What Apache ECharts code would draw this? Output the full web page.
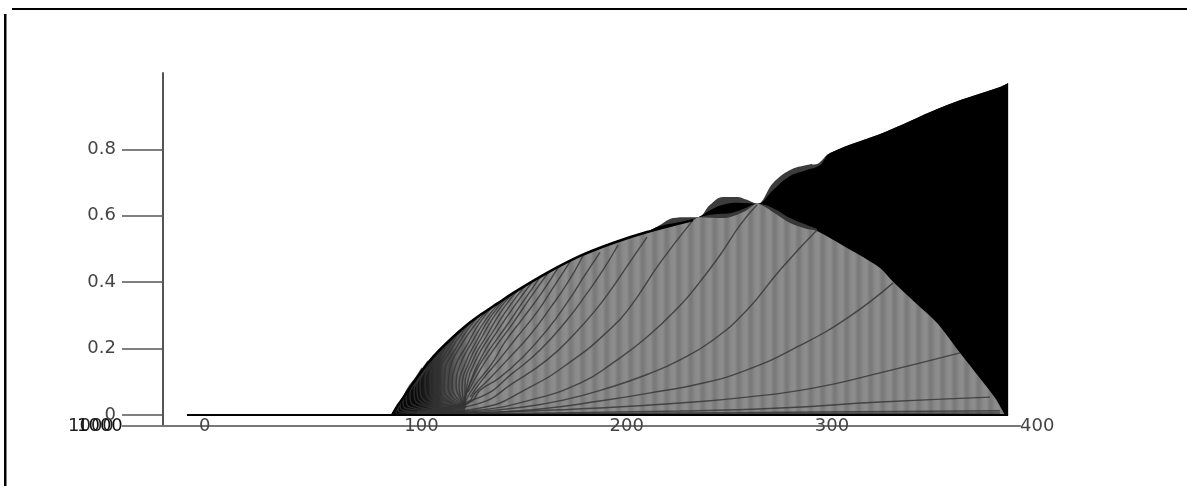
<!DOCTYPE html>
<html><head><meta charset="utf-8">
<style>html,body{margin:0;padding:0;background:#fff}#c{width:1187px;height:486px}</style>
<script src="https://cdn.jsdelivr.net/npm/echarts@6/dist/echarts.min.js"></script>
</head><body><div id="c"></div>
<script>
const xTickValues = [0, 100, 200, 300, 400];
const yTickValues = [-0.0331, 0, 0.2, 0.4, 0.6, 0.8];
const yTickLabels = ['', '0', '0.2', '0.4', '0.6', '0.8'];
const strayLabel = '1000';
const baseline = [[0,0],[99.5,0],[400,0]];
const leftEdge = [[99.9,0],[102.8,.03],[106.2,.06],[112.5,.117],[120.8,.181],[129.1,.232],[136.9,.274],[142.8,.301],[151.5,.337],[158.8,.367],[175.4,.428],[191.5,.479],[207.5,.518],[224.1,.551]];
const wedgeEdge = [[99.9,0],[102.8,.03],[106.2,.06],[112.5,.117],[120.8,.181],[129.1,.232],[136.9,.274],[142.8,.301]];
const greyEdge = [...leftEdge,[246.5,.587],[249,.596],[261.1,.593],[271.9,.614],[277.7,.636],[285.5,.611],[293.8,.578],[302,.56],[306.9,.554],[321.6,.503],[337.6,.443],[344,.401],[357.1,.325],[365.4,.277],[376.6,.187],[386.3,.111],[393.7,.051],[398.5,0]];
const upperEdge = [...leftEdge,[230.4,.572],[236.8,.593],[243.6,.596],[249,.596],[254.8,.633],[261.1,.657],[268,.657],[272.8,.648],[277.7,.636],[285.5,.699],[293.8,.738],[302,.753],[306.9,.756],[308.4,.762],[313.3,.789],[341,.855],[370.3,.934],[396.1,.988],[400,1]];
const coreEdge = [[224.1,.551],[230.4,.569],[240.2,.581],[249,.596],[254.8,.617],[261.1,.633],[268,.639],[277.7,.636],[285.5,.678],[293.8,.72],[302,.738],[308.4,.753],[313.3,.789],[341,.855],[370.3,.934],[396.1,.988],[400,1]];
const lensEdge = [[249,.596],[257.2,.605],[264.5,.608],[271.9,.623],[277.7,.636],[285.5,.623],[293.8,.593],[302,.572],[306.9,.56]];
const envelopeLine = [...leftEdge,[246.5,.587]];
const fanCurves = [
 [[103.8,0],[249.9,.003],[396,.006]],
 [[105,.001],[240.2,.006],[396,.013]],
 [[106,.002],[152,.005],[240.2,.012],[288.9,.021],[337.6,.039],[391.2,.054]],
 [[110,.001],[152,.009],[201,.021],[240.2,.036],[272.8,.054],[305,.081],[337.6,.127],[376.6,.187]],
 [[115,.001],[142.8,.006],[172,.018],[201,.042],[225,.066],[249.9,.094],[272.8,.136],[297.2,.205],[321.6,.292],[344,.398]],
 [[112,.002],[137.9,.009],[160,.021],[183.2,.045],[207.5,.086],[224.1,.122],[240.2,.166],[256.3,.226],[272.8,.316],[288.9,.437],[306.9,.557]],
 [[112,.003],[142.8,.015],[167.1,.045],[191.5,.096],[207.5,.157],[224.1,.235],[240.2,.33],[248.5,.39],[259.7,.482],[269.4,.572],[277.7,.633]],
 [[112,.004],[142.8,.021],[167.1,.084],[188.1,.166],[204.6,.25],[215.8,.325],[230.4,.458],[246.5,.587]],
 [[112,.006],[142.8,.036],[158.8,.096],[175.4,.166],[188.1,.24],[199.8,.322],[207.5,.386],[215.8,.461],[224.1,.536]],
 [[112,.008],[142.8,.054],[158.8,.127],[172,.196],[185.1,.286],[194.9,.367],[202.7,.437],[210,.512]],
 [[112,.009],[137.9,.039],[142.8,.075],[152,.111],[163.2,.172],[175.4,.256],[186,.346],[193.9,.422],[201.2,.49]],
 [[112,.01],[135.4,.03],[140.3,.066],[147.6,.111],[157.4,.175],[167.1,.241],[176.9,.322],[185.6,.4],[192.9,.479]],
 [[137.9,.054],[143.7,.105],[152,.166],[160.8,.235],[170.5,.31],[178.3,.383],[186.6,.461]],
 [[135.4,.039],[140.3,.09],[148,.15],[154.9,.22],[163.7,.292],[172,.361],[180.8,.444]],
 [[136.9,.069],[142.8,.136],[151,.211],[158.8,.277],[167.1,.352],[175.9,.428]],
 [[135.4,.05],[139.8,.12],[146.6,.19],[154.9,.262],[163.2,.337],[172,.415]],
 [[135,.039],[138,.1],[143.7,.178],[151.5,.256],[159.8,.331],[168.1,.4]],
 [[135.4,.03],[136.4,.09],[141.3,.172],[148.6,.247],[156.4,.322],[164.7,.389]],
 [[135.4,.03],[135.4,.081],[139.3,.166],[146.2,.241],[153.5,.316],[161.3,.377]],
 [[135.4,.03],[134,.081],[137.4,.16],[143.7,.235],[151,.31],[158.3,.364]],
 [[135.4,.03],[132.5,.084],[135.4,.154],[141.3,.226],[148.1,.298],[155.4,.352]],
 [[135.4,.03],[131.1,.087],[133,.151],[138.9,.22],[145.7,.289],[152.5,.34]],
 [[135.4,.03],[129.1,.084],[130.6,.145],[136.4,.211],[142.8,.28],[149.6,.331]],
 [[135.9,.027],[127.2,.081],[128.1,.142],[133,.205],[139.8,.268],[146.6,.316]],
 [[135.9,.027],[125.2,.075],[125.7,.136],[130.6,.196],[136.9,.259],[143.7,.307]],
 [[135.9,.024],[123.3,.072],[123.3,.13],[127.6,.187],[134,.247],[140.8,.292]],
 [[135.9,.024],[121.3,.069],[120.8,.123],[125.2,.178],[131.1,.235],[137.9,.28]],
 [[135.4,.021],[118.9,.063],[118.4,.114],[122.3,.166],[128.1,.22],[135,.265]],
 [[135.4,.021],[116.9,.057],[115.9,.105],[119.4,.154],[125.2,.205],[132,.25]],
 [[135.4,.018],[114.5,.051],[113.5,.093],[116.9,.142],[122.3,.19],[129.1,.232]],
 [[135.4,.015],[113,.045],[112,.085],[115,.13],[120,.175],[126.2,.215]],
 [[135.4,.012],[111.6,.039],[110.6,.072],[113.5,.114],[118.4,.16],[123.3,.199]],
 [[135.4,.009],[109.6,.033],[108.6,.063],[111.6,.099],[115.9,.145],[120.3,.181]],
 [[135.4,.009],[107.7,.027],[106.7,.054],[109.6,.087],[113.5,.127],[117.4,.163]],
 [[135.4,.006],[106.2,.021],[105.2,.042],[107.7,.072],[111.1,.108],[114.5,.142]],
 [[135.4,.003],[104.7,.015],[103.8,.033],[105.7,.057],[108.6,.09],[111.6,.111]],
 [[135.4,.003],[103.8,.009],[102.8,.021],[104.3,.039],[106.7,.069],[108.6,.084]],
 [[135.4,.0015],[101.8,.006],[102.3,.015],[104.3,.039],[105.7,.054]]
];

const stripe = document.createElement('canvas');
stripe.width = 12; stripe.height = 2;
const sc = stripe.getContext('2d');
['#8b8b8b','#8d8d8d','#8c8c8c','#888888','#828282','#7c7c7c','#7a7a7a','#7b7b7b','#7e7e7e','#838383','#888888','#8a8a8a'].forEach((c, i) => {
  sc.fillStyle = c; sc.fillRect(i, 0, 1, 2);
});

const FONT = 'DejaVu Sans';
function area(name, data, color, smooth) {
  return {name, type:'line', data, symbol:'none', silent:true, smooth, lineStyle:{width:0}, areaStyle:{color, opacity:1}, itemStyle:{color:'#000'}};
}
const wedgeFill = new echarts.graphic.LinearGradient(0, 0, 1, 0, [
  {offset:0, color:'rgba(0,0,0,1)'}, {offset:.3, color:'rgba(0,0,0,.9)'},
  {offset:.6, color:'rgba(0,0,0,.5)'}, {offset:.85, color:'rgba(0,0,0,.12)'}, {offset:1, color:'rgba(0,0,0,0)'}
]);
const series = [
  area('outer', upperEdge, '#3c3c3c', 0.4),
  area('core', coreEdge, '#000', 0.4),
  area('lens', lensEdge, '#383838', 0.4),
  area('grey', greyEdge, {image: stripe, repeat:'repeat'}, 0.3),
  area('wedge', wedgeEdge, wedgeFill, 0.3),
  ...fanCurves.map((d, i) => ({name:'fan'+i, type:'line', data:d, symbol:'none', silent:true, smooth:0.5,
      lineStyle:{color:'#333', width:1.4, opacity:.8}})),
  {name:'envelope', type:'line', data:envelopeLine, symbol:'none', silent:true, smooth:0.3, lineStyle:{color:'#000', width:2.5}},
  {name:'baseline', type:'line', data:baseline, symbol:'none', silent:true, lineStyle:{color:'#000', width:2}}
];

const chart = echarts.init(document.getElementById('c'), null, {renderer:'canvas'});
chart.setOption({
  animation:false, backgroundColor:'#fff',
  grid:{left:163, right:167, top:73, bottom:60, containLabel:false},
  xAxis:{type:'value', min:-11.7, max:405.8, splitLine:{show:false}, z:1,
    axisLine:{show:true, onZero:false, lineStyle:{color:'#777', width:2}},
    axisTick:{show:false},
    axisLabel:{customValues:xTickValues, align:'left', verticalAlign:'middle', margin:0, padding:[0,0,0,12],
      fontFamily:FONT, fontSize:18, color:'#444', formatter:v => String(v), hideOverlap:false}},
  yAxis:{type:'value', min:-0.0331, max:1.0301, splitLine:{show:false},
    axisLine:{show:true, onZero:false, lineStyle:{color:'#555', width:2}},
    axisTick:{show:true, length:41, customValues:yTickValues, lineStyle:{color:'#555', width:1.5}},
    axisLabel:{customValues:yTickValues, margin:47, fontFamily:FONT, fontSize:18, color:'#444', hideOverlap:false,
      formatter:v => yTickLabels[yTickValues.indexOf(v)]}},
  series,
  graphic:[
    {type:'rect', shape:{x:12,y:8,width:1175,height:2}, style:{fill:'#000'}},
    {type:'rect', shape:{x:4,y:14,width:2.5,height:472}, style:{fill:'#000'}},
    {type:'text', x:68, y:426, style:{text:strayLabel, font:'18px "DejaVu Sans"', fill:'#222', textVerticalAlign:'middle'}},
    {type:'text', x:77, y:426, style:{text:strayLabel, font:'18px "DejaVu Sans"', fill:'#111', textVerticalAlign:'middle'}}
  ]
});
</script></body></html>
